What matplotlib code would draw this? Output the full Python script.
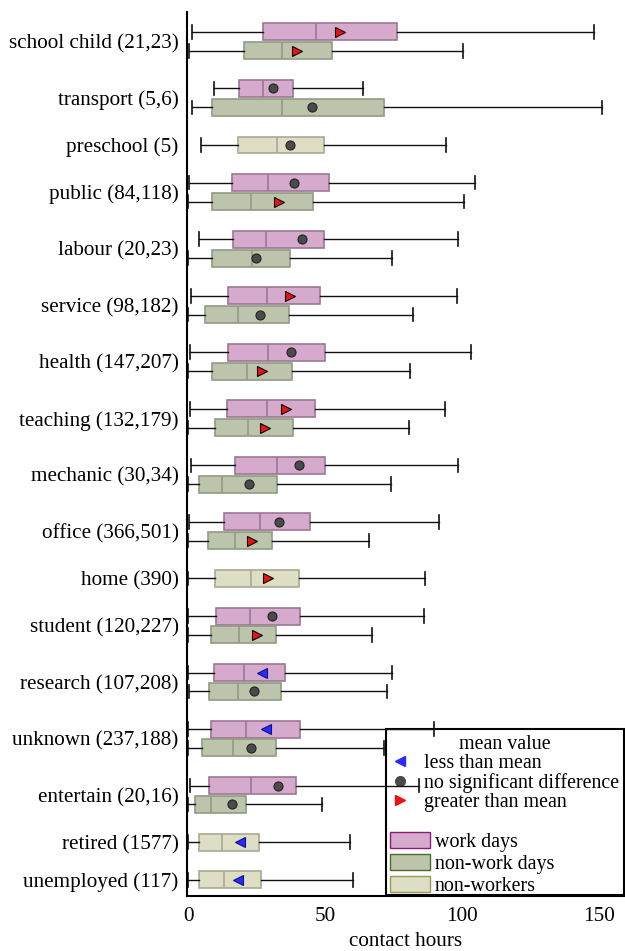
import matplotlib
matplotlib.use("Agg")
import matplotlib.pyplot as plt
from matplotlib.lines import Line2D
from matplotlib.patches import Patch, Rectangle

plt.rcParams["font.family"] = ["Liberation Serif", "DejaVu Serif"]

# Category labels, top to bottom (sample sizes in brackets)
labels = [
    "school child (21,23)", "transport (5,6)", "preschool (5)", "public (84,118)",
    "labour (20,23)", "service (98,182)", "health (147,207)", "teaching (132,179)",
    "mechanic (30,34)", "office (366,501)", "home (390)", "student (120,227)",
    "research (107,208)", "unknown (237,188)", "entertain (20,16)", "retired (1577)",
    "unemployed (117)",
]

# Workers: one box for work days and one for non-work days
worker_idx = [0, 1, 3, 4, 5, 6, 7, 8, 9, 11, 12, 13, 14]

work_low  = [1.5, 9.4, 0.1, 3.9, 1.1, 0.7, 0.7, 1.1, 0.3, 0.0, 0.0, 0.0, 0.7]
work_q1   = [27.3, 18.6, 15.8, 16.4, 14.6, 14.4, 14.2, 17.2, 12.9, 10.2, 9.3, 8.2, 7.7]
work_med  = [46.7, 27.4, 29.0, 28.2, 28.8, 29.0, 28.7, 32.3, 26.0, 22.6, 20.4, 21.2, 22.8]
work_q3   = [76.1, 38.1, 51.5, 49.4, 48.2, 50.0, 46.1, 49.9, 44.3, 40.7, 35.3, 40.9, 39.3]
work_high = [148.2, 63.8, 104.6, 98.3, 98.1, 103.3, 93.7, 98.4, 91.5, 86.1, 74.3, 89.7, 84.3]
work_mean = [55.5, 30.9, 38.6, 41.6, 37.2, 37.5, 35.7, 40.3, 33.1, 30.7, 26.7, 28.5, 32.8]
work_flag = ["gt", "ns", "ns", "ns", "gt", "ns", "gt", "ns", "ns", "ns", "lt", "lt", "ns"]

nonwork_low  = [0.4, 1.4, 0.0, 0.0, 0.0, 0.0, 0.0, 0.0, 0.0, 0.0, 0.2, 0.0, 0.0]
nonwork_q1   = [20.4, 8.5, 8.8, 8.5, 6.2, 8.8, 9.9, 3.7, 7.3, 8.3, 7.7, 5.1, 2.3]
nonwork_med  = [34.1, 34.0, 22.8, 23.1, 18.2, 21.5, 21.8, 12.1, 16.9, 18.5, 18.0, 16.2, 8.2]
nonwork_q3   = [52.6, 71.5, 45.6, 37.2, 36.6, 37.8, 38.3, 32.3, 30.7, 31.9, 33.7, 31.9, 20.9]
nonwork_high = [100.3, 151.1, 100.5, 74.5, 81.9, 80.9, 80.7, 73.9, 65.8, 67.0, 72.5, 71.5, 48.8]
nonwork_mean = [39.6, 45.3, 33.2, 24.8, 26.3, 27.0, 28.0, 22.0, 23.1, 25.0, 24.1, 23.0, 16.1]
nonwork_flag = ["gt", "ns", "gt", "ns", "ns", "gt", "gt", "ns", "gt", "gt", "ns", "ns", "ns"]

# Non-workers: a single box
nonworker_idx = [2, 10, 15, 16]
nw_low  = [4.5, 0.0, 0.0, 0.0]
nw_q1   = [18.3, 9.9, 4.0, 3.8]
nw_med  = [32.5, 23.0, 12.2, 12.9]
nw_q3   = [49.5, 40.5, 25.9, 26.5]
nw_high = [93.9, 86.3, 59.0, 60.2]
nw_mean = [37.2, 29.0, 18.9, 18.1]
nw_flag = ["ns", "gt", "lt", "lt"]

styles = {
    "work":      dict(face="#d6aacd", edge="#9a7893", legend_edge="#8e1a78"),
    "nonwork":   dict(face="#bcc4ab", edge="#929a85", legend_edge="#4f6a2a"),
    "nonworker": dict(face="#dedec5", edge="#a9a995", legend_edge="#9a9a55"),
}
mean_markers = {
    "lt": dict(marker="<", mfc="#2a2aff", mec="#101080"),
    "ns": dict(marker="o", mfc="#4a4a4a", mec="#222222"),
    "gt": dict(marker=">", mfc="#ee1111", mec="#000000"),
}

# Slot layout: one slot per box, one empty slot between categories
cat_pos = []
slot = 0
box_pos = {}
for i in range(len(labels)):
    if i in worker_idx:
        box_pos[i] = (slot, slot + 1)
        cat_pos.append(slot + 0.5)
        slot += 3
    else:
        box_pos[i] = (slot,)
        cat_pos.append(slot)
        slot += 2

W, H = 625, 951
fig = plt.figure(figsize=(W / 100, H / 100), dpi=100)
ax = fig.add_axes([187 / W, 55 / H, 438 / W, 884 / H])


def draw(series, positions, low, q1, med, q3, high, mean, flag):
    st = styles[series]
    stats = [dict(whislo=a, q1=b, med=c, q3=d, whishi=e, fliers=[])
             for a, b, c, d, e in zip(low, q1, med, q3, high)]
    ax.bxp(stats, positions=positions, vert=False, widths=0.9, patch_artist=True,
           showfliers=False, capwidths=0.72,
           boxprops=dict(facecolor=st["face"], edgecolor=st["edge"], linewidth=1.2),
           medianprops=dict(color=st["edge"], linewidth=1.2),
           whiskerprops=dict(color="#111111", linewidth=1.0),
           capprops=dict(color="#111111", linewidth=1.2))
    for p, m, f in zip(positions, mean, flag):
        mk = mean_markers[f]
        ax.plot([m], [p], linestyle="none", marker=mk["marker"], markersize=6.5,
                markerfacecolor=mk["mfc"], markeredgecolor=mk["mec"],
                markeredgewidth=0.8, zorder=5)


draw("work", [box_pos[i][0] for i in worker_idx], work_low, work_q1, work_med,
     work_q3, work_high, work_mean, work_flag)
draw("nonwork", [box_pos[i][1] for i in worker_idx], nonwork_low, nonwork_q1,
     nonwork_med, nonwork_q3, nonwork_high, nonwork_mean, nonwork_flag)
draw("nonworker", [box_pos[i][0] for i in nonworker_idx], nw_low, nw_q1, nw_med,
     nw_q3, nw_high, nw_mean, nw_flag)

ax.set_xlim(-0.5, 159.4)
ax.set_ylim(45.86, -1.06)
ax.set_yticks(cat_pos)
ax.set_yticklabels(labels, fontsize=15.2)
ax.set_xticks([0, 50, 100, 150])
ax.set_xticklabels(["0", "50", "100", "150"], fontsize=15.2)
ax.tick_params(axis="both", length=0)
ax.tick_params(axis="y", pad=6)
ax.tick_params(axis="x", pad=8)
ax.set_xlabel("contact hours", fontsize=15.2, labelpad=4)
for side in ("top", "right"):
    ax.spines[side].set_visible(False)
for side in ("left", "bottom"):
    ax.spines[side].set_linewidth(1.5)

# Legend: a shared white frame sitting beneath the whiskers, holding two key blocks
frame = Rectangle((386 / W, 1 - 895 / H), 238 / W, 166 / H, transform=fig.transFigure,
                  facecolor="white", edgecolor="black", linewidth=1.5,
                  clip_on=False, zorder=0.4)
ax.add_patch(frame)

mean_handles = [
    Line2D([], [], linestyle="none", marker="<", markersize=7, color="#2a2aff"),
    Line2D([], [], linestyle="none", marker="o", markersize=7, color="#4a4a4a"),
    Line2D([], [], linestyle="none", marker=">", markersize=7, color="#ee1111"),
]
mean_names = ["less than mean", "no significant difference", "greater than mean"]
leg1 = ax.legend(mean_handles, mean_names, title="mean value", loc="upper left",
                 bbox_to_anchor=(386 / W, 1 - 731 / H), bbox_transform=fig.transFigure,
                 borderaxespad=0, fontsize=14.4, title_fontsize=14.4, frameon=False,
                 handlelength=1.0, handletextpad=0.72, labelspacing=0.0,
                 borderpad=0.2)
leg1.set_zorder(0.5)
ax.add_artist(leg1)

group_handles = [
    Patch(facecolor=styles["work"]["face"], edgecolor=styles["work"]["legend_edge"]),
    Patch(facecolor=styles["nonwork"]["face"], edgecolor=styles["nonwork"]["legend_edge"]),
    Patch(facecolor=styles["nonworker"]["face"], edgecolor=styles["nonworker"]["legend_edge"]),
]
group_names = ["work days", "non-work days", "non-workers"]
leg2 = ax.legend(group_handles, group_names, loc="lower left",
                 bbox_to_anchor=(389 / W, 1 - 897 / H), bbox_transform=fig.transFigure,
                 borderaxespad=0, fontsize=14.4, frameon=False,
                 handlelength=2.0, handleheight=0.8, handletextpad=0.25,
                 labelspacing=0.12, borderpad=0.05)
leg2.set_zorder(0.5)

fig.savefig("out.png", dpi=100)
